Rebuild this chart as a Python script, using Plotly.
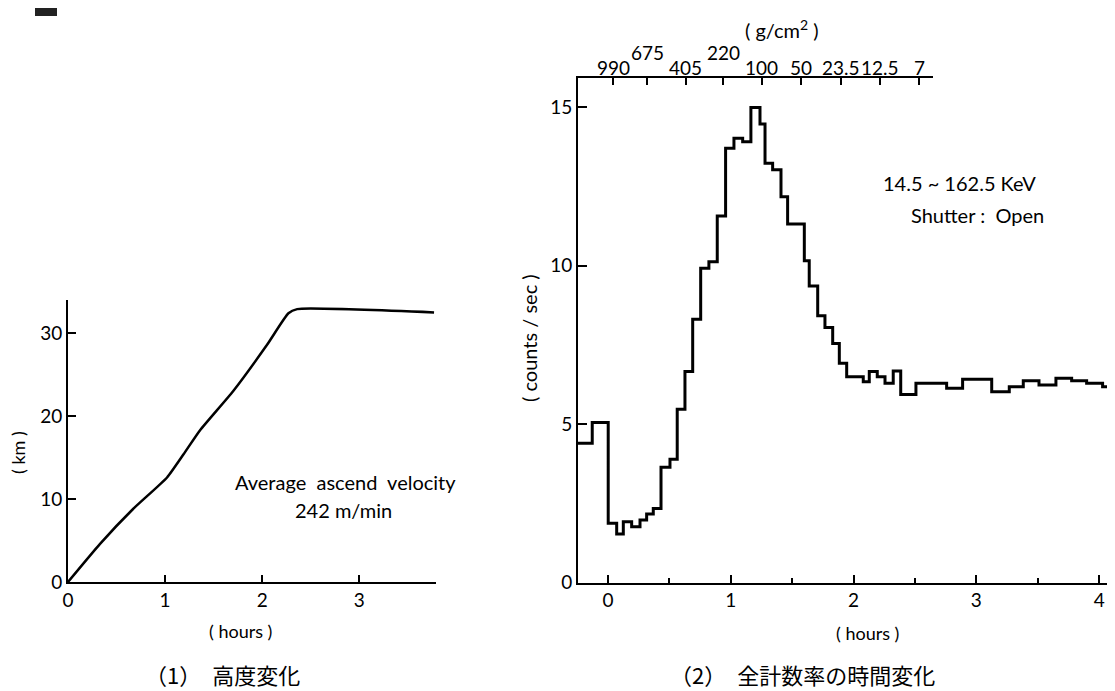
import plotly.graph_objects as go

# The page adds an 8 px body margin, so the figure is 8 px smaller than the window
# and every reference pixel position is shifted by that offset.
OFF = 8
W, H = 1115 - OFF, 691 - OFF

# ---------------- Data ----------------
# (1) Altitude vs time
alt_hours = [0, 0.33, 0.67, 1.02, 1.19, 1.36, 1.70, 2.05, 2.27, 2.36, 3.77]
alt_km = [0, 4.6, 8.8, 12.6, 15.4, 18.3, 23.0, 28.6, 32.4, 32.9, 32.5]

# (2) Total count rate vs time (bin edges in hours, counts/sec per bin)
bin_edges = [-0.252, -0.128, 0.002, 0.071, 0.125, 0.193, 0.261, 0.315, 0.369, 0.432,
             0.505, 0.564, 0.627, 0.690, 0.755, 0.822, 0.890, 0.958, 1.026, 1.097,
             1.164, 1.238, 1.279, 1.341, 1.409, 1.463, 1.599, 1.639, 1.708, 1.767,
             1.830, 1.884, 1.944, 2.079, 2.128, 2.193, 2.256, 2.323, 2.384, 2.508,
             2.758, 2.888, 3.125, 3.268, 3.382, 3.510, 3.648, 3.776, 3.898, 4.028, 4.129]
count_rate = [4.40, 5.05, 1.87, 1.53, 1.92, 1.76, 1.97, 2.16, 2.34, 3.64,
              3.89, 5.47, 6.66, 8.31, 9.92, 10.13, 11.57, 13.71, 14.03, 13.92,
              15.0, 14.48, 13.24, 13.03, 12.18, 11.32, 10.16, 9.36, 8.42, 8.05,
              7.55, 6.92, 6.50, 6.34, 6.66, 6.50, 6.29, 6.68, 5.94, 6.29,
              6.13, 6.42, 6.02, 6.18, 6.37, 6.24, 6.45, 6.37, 6.29, 6.18]

# Top axis: residual atmosphere (g/cm^2)
depth_hours = [0.043, 0.320, 0.635, 0.939, 1.252, 1.569, 1.897, 2.215, 2.535]
depth_labels = ["990", "675", "405", "220", "100", "50", "23.5", "12.5", "7"]
depth_raised = [False, True, False, True, False, False, False, False, False]

FONT = "Lato, 'DejaVu Sans', sans-serif"
CJK = "'Noto Sans CJK JP', sans-serif"


def fx(px):
    return (px - OFF) / W


def fy(py):
    return 1 - (py - OFF) / H


fig = go.Figure()

fig.add_trace(go.Scatter(x=alt_hours, y=alt_km, mode="lines",
                         line=dict(color="black", width=2.5, shape="spline", smoothing=0.5),
                         xaxis="x", yaxis="y", showlegend=False, hoverinfo="skip"))

fig.add_trace(go.Scatter(x=bin_edges, y=count_rate + [count_rate[-1]], mode="lines",
                         line=dict(color="black", width=3, shape="hv"),
                         xaxis="x2", yaxis="y2", showlegend=False, hoverinfo="skip"))

fig.add_trace(go.Scatter(x=depth_hours, y=[None] * len(depth_hours), mode="lines",
                         xaxis="x3", yaxis="y2", showlegend=False, hoverinfo="skip"))

axis_common = dict(showgrid=False, zeroline=False, showline=True, linecolor="black",
                   linewidth=2, ticks="inside", tickcolor="black", tickwidth=1.5,
                   automargin=False,
                   tickfont=dict(family=FONT, size=19, color="black"))

fig.update_layout(
    width=W, height=H,
    margin=dict(l=0, r=0, t=0, b=0, autoexpand=False),
    paper_bgcolor="white", plot_bgcolor="rgba(0,0,0,0)",
    xaxis=dict(domain=[fx(68), fx(436)], range=[0, 3.79], anchor="y",
               tickvals=[0, 1, 2, 3], ticklen=7, **axis_common),
    yaxis=dict(domain=[fy(582), fy(300)], range=[0, 34.0], anchor="x",
               tickvals=[0, 10, 20, 30], ticklen=8, **axis_common),
    xaxis2=dict(domain=[fx(578), 1.0], range=[-0.244, 4.129], anchor="y2",
                tickvals=[0, 1, 2, 3, 4], ticklen=8,
                minor=dict(dtick=0.5, tick0=0, ticks="inside", ticklen=5,
                           tickwidth=1.5, tickcolor="black", showgrid=False),
                **axis_common),
    yaxis2=dict(domain=[fy(582.5), fy(78)], range=[0, 15.93], anchor="x2",
                tickvals=[0, 5, 10, 15], ticklen=9, **axis_common),
    xaxis3=dict(domain=[fx(578), fx(933)], range=[-0.244, 2.647], anchor="y2",
                side="top", tickvals=depth_hours, ticklen=7, showticklabels=False,
                showgrid=False, zeroline=False, showline=True, linecolor="black",
                linewidth=2, ticks="inside", tickcolor="black", tickwidth=1.5,
                automargin=False),
)


def note(text, x, y, xref, yref, size, family=FONT, angle=0):
    return dict(text=text, x=x, y=y, xref=xref, yref=yref, xanchor="center",
                yanchor="middle", textangle=angle, showarrow=False,
                font=dict(family=family, size=size, color="black"))


ann = []
# axis titles
ann.append(note("( hours )", 1.78, fy(631), "x", "paper", 18))
ann.append(note("( hours )", 2.117, fy(633), "x2", "paper", 18))
ann.append(note("( km )", fx(18), fy(453), "paper", "paper", 18, angle=-90))
ann.append(note("( counts / sec )", fx(529), fy(338), "paper", "paper", 20, angle=-90))
ann.append(note("( g/cm<sup>2</sup> )", 1.417, fy(29), "x3", "paper", 20))
# in-plot notes
ann.append(note("Average  ascend  velocity", 2.856, 12.06, "x", "y", 20))
ann.append(note("242 m/min", 2.835, 8.69, "x", "y", 20))
ann.append(note("14.5 ~ 162.5 KeV", 2.866, 12.61, "x2", "y2", 20))
ann.append(note("Shutter :\u00a0 Open", 3.013, 11.60, "x2", "y2", 20))
# top-axis depth labels
for h, lab, up in zip(depth_hours, depth_labels, depth_raised):
    ann.append(note(lab, h, fy(52 if up else 67.5), "x3", "paper", 19))
# captions
ann.append(note("（1）\u3000高度変化", fx(222), fy(674), "paper", "paper", 22, family=CJK))
ann.append(note("（2）\u3000全計数率の時間変化", fx(802), fy(674), "paper", "paper", 22, family=CJK))

fig.update_layout(annotations=ann)

# scan artifact in the top-left corner
fig.add_shape(type="rect", xref="paper", yref="paper", x0=fx(35), x1=fx(57),
              y0=fy(16), y1=1, fillcolor="#222222", line=dict(width=0), layer="above")

fig.write_html("out.html")
